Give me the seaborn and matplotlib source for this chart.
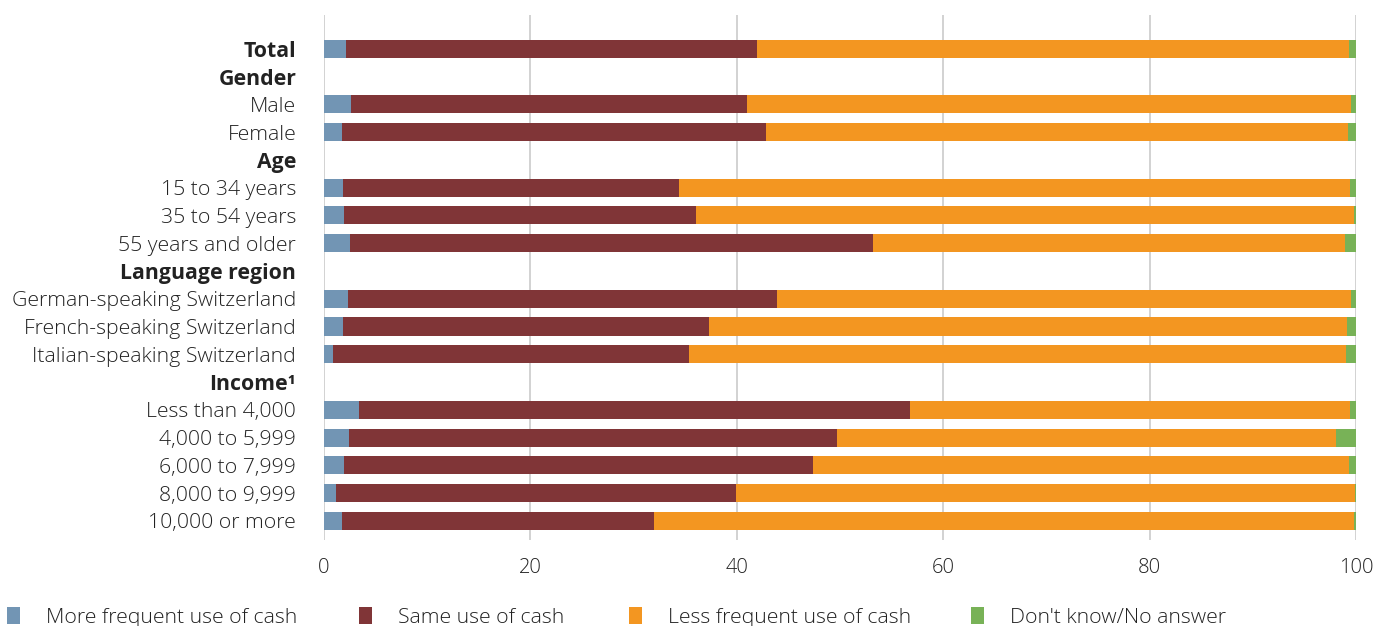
import numpy as np
import pandas as pd
import matplotlib
matplotlib.use("Agg")
import matplotlib.pyplot as plt
from matplotlib.patches import Patch
import seaborn as sns

# Row labels in display order; group headers carry no data
rows = ["Total", "Gender", "Male", "Female", "Age", "15 to 34 years",
        "35 to 54 years", "55 years and older", "Language region",
        "German-speaking Switzerland", "French-speaking Switzerland",
        "Italian-speaking Switzerland", "Income¹", "Less than 4,000",
        "4,000 to 5,999", "6,000 to 7,999", "8,000 to 9,999", "10,000 or more"]
headers = ["Total", "Gender", "Age", "Language region", "Income¹"]

groups = ["Total", "Male", "Female", "15 to 34 years", "35 to 54 years",
          "55 years and older", "German-speaking Switzerland",
          "French-speaking Switzerland", "Italian-speaking Switzerland",
          "Less than 4,000", "4,000 to 5,999", "6,000 to 7,999",
          "8,000 to 9,999", "10,000 or more"]
more_cash = [2.1, 2.6, 1.7, 1.8, 1.9, 2.5, 2.3, 1.8, 0.9, 3.4, 2.4, 1.9, 1.2, 1.7]
same_cash = [39.9, 38.4, 41.1, 32.6, 34.1, 50.7, 41.6, 35.5, 34.5, 53.4, 47.3, 45.5, 38.7, 30.3]
less_cash = [57.3, 58.5, 56.4, 65.0, 63.8, 45.7, 55.6, 61.8, 63.6, 42.6, 48.4, 51.9, 60.0, 67.8]
dont_know = [0.7, 0.5, 0.8, 0.6, 0.2, 1.1, 0.5, 0.9, 1.0, 0.6, 1.9, 0.7, 0.1, 0.2]

series = ["More frequent use of cash", "Same use of cash",
          "Less frequent use of cash", "Don't know/No answer"]
colors = ["#7295b4", "#803537", "#f39621", "#78b257"]

df = pd.DataFrame({"group": groups, series[0]: more_cash, series[1]: same_cash,
                   series[2]: less_cash, series[3]: dont_know})
cum = df[series].cumsum(axis=1)
cum["group"] = df["group"]

sns.set_theme(style="white")
plt.rcParams["font.family"] = ["Open Sans", "DejaVu Sans"]
plt.rcParams["font.weight"] = "light"

fig = plt.figure(figsize=(13.76, 6.26), dpi=100)
ax = fig.add_axes([324 / 1376, 1 - 540 / 626, 1032 / 1376, 525 / 626])

# Stacked bars: draw cumulative totals from the outermost segment inward
for s, c in reversed(list(zip(series, colors))):
    sns.barplot(data=cum, x=s, y="group", order=rows, color=c, width=0.65,
                orient="h", ax=ax, saturation=1, linewidth=0, zorder=3)

ax.set_xlim(0, 100)
ax.set_ylim(17.69, -1.22)
ax.set_xticks([0, 20, 40, 60, 80, 100])
ax.grid(axis="x", color="#cfcfcf", linewidth=1.3, zorder=0)
ax.grid(axis="y", visible=False)
for sp in ax.spines.values():
    sp.set_visible(False)
ax.set_xlabel("")
ax.set_ylabel("")
ax.tick_params(axis="both", length=0)
ax.tick_params(axis="x", labelsize=14.5, labelcolor="#222222", pad=13)
ax.tick_params(axis="y", labelsize=15.3, labelcolor="#222222", pad=20)
ax.set_yticks(range(len(rows)))
ax.set_yticklabels(rows)
for lab in ax.get_yticklabels():
    if lab.get_text() in headers:
        lab.set_fontweight("bold")

# Legend row along the bottom, one entry per series
legend_x = [7, 359, 629, 971]
for x0, name, c in zip(legend_x, series, colors):
    leg = fig.legend([Patch(facecolor=c, edgecolor="none")], [name],
                     loc="lower left", bbox_to_anchor=(x0 / 1376, -0.003),
                     frameon=False, fontsize=15.3, handlelength=0.6,
                     handleheight=0.85, handletextpad=1.25,
                     borderaxespad=0.0, borderpad=0.0, labelcolor="#222222")

fig.savefig("out.png", dpi=100)
